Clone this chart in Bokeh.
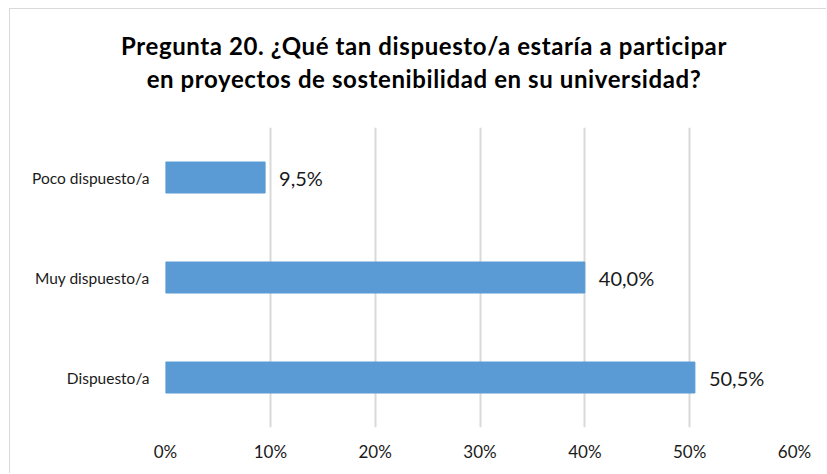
from bokeh.plotting import figure
from bokeh.layouts import column
from bokeh.models import FactorRange, Range1d, FixedTicker, PrintfTickFormatter, ColumnDataSource, LabelSet, Div
from bokeh.core.properties import value
from bokeh.embed import file_html
from bokeh.resources import INLINE

categories = ["Dispuesto/a", "Muy dispuesto/a", "Poco dispuesto/a"]
values = [50.5, 40.0, 9.5]
x_ticks = [0, 10, 20, 30, 40, 50, 60]
title_lines = ["Pregunta 20. ¿Qué tan dispuesto/a estaría a participar",
               "en proyectos de sostenibilidad en su universidad?"]

labels = [f"{v:.1f}".replace(".", ",") + "%" for v in values]
src = ColumnDataSource(dict(cat=categories, val=values, lab=labels))

FONT = "Lato"
TXT = "#1a1a1a"
W = 816
H1, H2 = 100, 364

# title block
title_html = (
    f'<div style="width:{W}px; box-sizing:border-box; padding-left:12px; padding-top:20px; '
    f'text-align:center; font-family:{FONT}; font-weight:bold; font-size:24px; '
    f'letter-spacing:0.6px; line-height:33px; color:#000000;">'
    + "<br>".join(title_lines) + "</div>"
)
t = Div(text=title_html, width=W, height=H1, margin=0)

# chart
p = figure(width=W, height=H2, output_backend="svg", toolbar_location=None,
           y_range=FactorRange(factors=categories, range_padding=0),
           x_range=Range1d(0, 60),
           min_border_left=155, min_border_right=32, min_border_top=18, min_border_bottom=46)
p.outline_line_color = None
p.hbar(y="cat", right="val", left=0, height=0.31, source=src, color="#5B9BD5")

p.add_layout(LabelSet(x="val", y="cat", text="lab", source=src, x_offset=14,
                      text_align="left", text_baseline="middle",
                      text_font=value(FONT), text_font_size=value("20px"), text_color=TXT))

p.xaxis.ticker = FixedTicker(ticks=x_ticks)
p.xaxis.formatter = PrintfTickFormatter(format="%d%%")
p.xaxis.axis_line_color = None
p.xaxis.major_tick_line_color = None
p.xaxis.minor_tick_line_color = None
p.xaxis.major_tick_out = 0
p.xaxis.major_label_standoff = 13
p.xaxis.major_label_text_font = FONT
p.xaxis.major_label_text_font_size = "17px"
p.xaxis.major_label_text_color = TXT

p.yaxis.axis_line_color = None
p.yaxis.major_tick_line_color = None
p.yaxis.major_tick_out = 0
p.yaxis.major_label_standoff = 16
p.yaxis.major_label_text_font = FONT
p.yaxis.major_label_text_font_size = "15.5px"
p.yaxis.major_label_text_color = TXT

p.xgrid.ticker = FixedTicker(ticks=x_ticks)
p.xgrid.grid_line_color = "#d9d9d9"
p.xgrid.grid_line_width = 2
p.ygrid.grid_line_color = None

layout = column(t, p, spacing=0,
                styles={"border-top": "1px solid #d9d9d9", "border-left": "1px solid #d9d9d9",
                        "margin-left": "9px", "margin-top": "8px"})

open("out.html", "w").write(file_html(layout, INLINE))
